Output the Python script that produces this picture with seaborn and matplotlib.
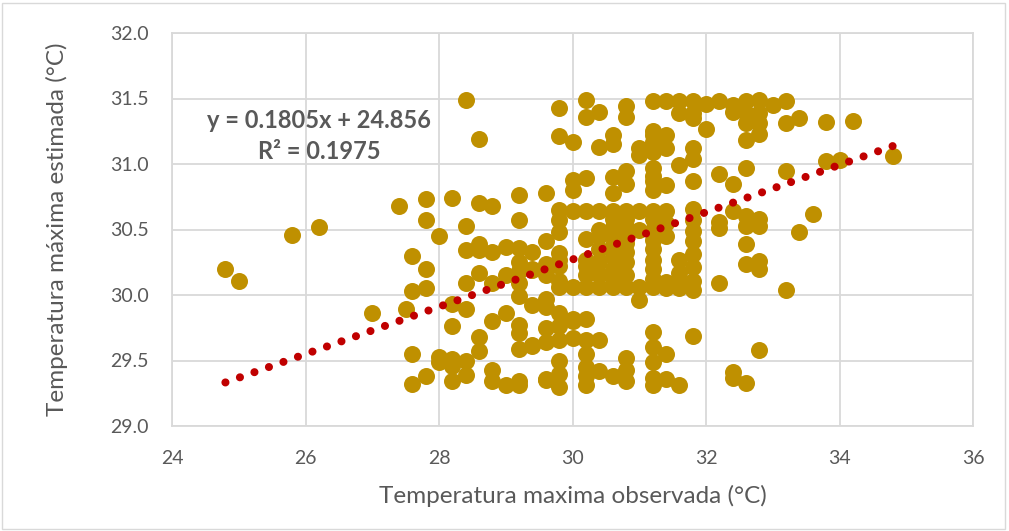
import numpy as np
import pandas as pd
import matplotlib
matplotlib.use("Agg")
import matplotlib.pyplot as plt
from matplotlib.patches import Rectangle
import seaborn as sns

# -----------------------------------------------------------
# Data (read off the reference chart, grouped by observed value)
# -----------------------------------------------------------
obs_cols = [24.8, 25.0, 25.8, 26.2, 27.0, 27.4, 27.5, 27.6, 27.8, 28.0,
            28.2, 28.4, 28.6, 28.8, 29.0, 29.2, 29.4, 29.6, 29.8, 30.0,
            30.2, 30.4, 30.6, 30.8, 31.0, 31.2, 31.4, 31.6, 31.8, 32.0,
            32.2, 32.4, 32.6, 32.8, 33.0, 33.2, 33.4, 33.6, 33.8, 34.0,
            34.2, 34.8]

est_by_col = [
    [30.20],
    [30.11],
    [30.46],
    [30.52],
    [29.86],
    [30.68],
    [29.89],
    [30.30, 30.03, 29.55, 29.32],
    [30.73, 30.57, 30.20, 30.05, 29.38],
    [30.45, 29.53, 29.49],
    [30.74, 29.93, 29.76, 29.51, 29.46, 29.34],
    [31.49, 30.53, 30.34, 30.09, 29.89, 29.50, 29.39],
    [31.19, 30.70, 30.39, 30.34, 30.17, 29.68, 29.57],
    [30.68, 30.33, 30.09, 29.80, 29.43, 29.34],
    [30.37, 30.15, 29.86, 29.31],
    [30.76, 30.57, 30.36, 30.25, 30.18, 30.09, 29.99, 29.77, 29.71, 29.59, 29.34, 29.31],
    [30.33, 30.20, 30.19, 29.92, 29.62, 29.61],
    [30.78, 30.41, 30.24, 30.15, 29.97, 29.91, 29.75, 29.64, 29.36, 29.35],
    [31.43, 31.21, 30.65, 30.57, 30.48, 30.32, 30.27, 30.22, 30.11, 30.06,
     29.86, 29.76, 29.66, 29.50, 29.40, 29.30],
    [31.17, 30.88, 30.80, 30.64, 30.06, 29.82, 29.80, 29.67],
    [31.49, 31.36, 30.89, 30.64, 30.43, 30.27, 30.22, 30.15, 30.06, 29.82,
     29.66, 29.55, 29.45, 29.38, 29.31],
    [31.40, 31.13, 30.64, 30.50, 30.45, 30.35, 30.25, 30.15, 30.06, 29.66, 29.42],
    [31.22, 31.15, 30.90, 30.78, 30.64, 30.58, 30.52, 30.45, 30.38, 30.30,
     30.20, 30.12, 30.06, 29.38],
    [31.44, 31.36, 30.95, 30.85, 30.64, 30.58, 30.52, 30.45, 30.40, 30.33,
     30.25, 30.15, 30.06, 29.52, 29.43, 29.34],
    [31.12, 31.07, 30.64, 30.50, 30.06, 29.96],
    [31.48, 31.25, 31.22, 31.17, 31.13, 31.09, 30.97, 30.91, 30.87, 30.80,
     30.64, 30.58, 30.50, 30.42, 30.35, 30.27, 30.20, 30.12, 30.06, 29.72,
     29.60, 29.49, 29.37, 29.31],
    [31.48, 31.22, 31.12, 30.84, 30.64, 30.55, 30.45, 30.10, 30.05, 29.55, 29.36],
    [31.48, 31.39, 30.99, 30.27, 30.17, 30.09, 30.05, 29.31],
    [31.48, 31.39, 31.35, 31.12, 31.04, 30.87, 30.66, 30.57, 30.49, 30.41,
     30.31, 30.21, 30.11, 30.04, 29.69],
    [31.46, 31.27],
    [31.48, 30.92, 30.56, 30.51, 30.09],
    [31.45, 31.40, 30.85, 30.64, 29.41, 29.37],
    [31.48, 31.39, 31.31, 31.18, 30.97, 30.60, 30.53, 30.39, 30.24, 29.33],
    [31.49, 31.39, 31.31, 31.23, 30.58, 30.53, 30.26, 30.20, 29.58],
    [31.45],
    [31.48, 31.31, 30.95, 30.04],
    [31.35, 30.48],
    [30.62],
    [31.32, 31.02],
    [31.03],
    [31.33],
    [31.06],
]

# trendline shown in the chart
slope = 0.1805
intercept = 24.856
r2 = 0.1975

x_ticks = [24, 26, 28, 30, 32, 34, 36]
y_ticks = [29.0, 29.5, 30.0, 30.5, 31.0, 31.5, 32.0]

obs = [x for x, ys in zip(obs_cols, est_by_col) for _ in ys]
est = [y for ys in est_by_col for y in ys]
df = pd.DataFrame({"obs": obs, "est": est})

x_line = np.array([min(obs), max(obs)])
trend = pd.DataFrame({"obs": x_line, "est": slope * x_line + intercept})

# -----------------------------------------------------------
# Plot
# -----------------------------------------------------------
sns.set_theme(style="white")
plt.rcParams["font.family"] = ["Lato", "DejaVu Sans"]
TXT = "#595959"
GRID = "#D9D9D9"

fig = plt.figure(figsize=(10.09, 5.31), dpi=100)
ax = fig.add_axes([172 / 1009, 1 - 426 / 531, (973 - 172) / 1009, (426 - 33) / 531])

sns.scatterplot(data=df, x="obs", y="est", color="#BF9000", s=150,
                linewidth=0, alpha=1, ax=ax, zorder=3)
sns.lineplot(data=trend, x="obs", y="est", color="#C00000", linewidth=5.8,
             linestyle=(0, (0.01, 1.9)), dash_capstyle="round", ax=ax, zorder=4)

ax.set_xlim(24, 36)
ax.set_ylim(29, 32)
ax.set_xticks(x_ticks)
ax.set_xticklabels([str(t) for t in x_ticks])
ax.set_yticks(y_ticks)
ax.set_yticklabels([f"{t:.1f}" for t in y_ticks])
ax.grid(True, color=GRID, linewidth=1.3)
ax.set_axisbelow(True)
for sp in ax.spines.values():
    sp.set_color(GRID)
    sp.set_linewidth(1.3)
ax.tick_params(length=0, labelsize=14, colors=TXT)
ax.tick_params(axis="x", pad=17)
ax.tick_params(axis="y", pad=17)

ax.set_xlabel("Temperatura maxima observada (°C)", fontsize=17.5, color=TXT)
ax.set_ylabel("Temperatura máxima estimada (°C)", fontsize=17.5, color=TXT)
ax.xaxis.set_label_coords(0.5, (426 - 485) / 393)
ax.yaxis.set_label_coords((68 - 172) / 801, 0.5)

ax.text(26.2, 31.214, f"y = {slope}x + {intercept}\nR² = {r2}",
        ha="center", va="center", fontsize=17, fontweight="bold",
        color=TXT, linespacing=1.4, zorder=5)

fig.patches.append(Rectangle((0.002, 0.003), 0.994, 0.992, transform=fig.transFigure,
                             fill=False, edgecolor=GRID, linewidth=1))

fig.savefig("out.png", dpi=100)
